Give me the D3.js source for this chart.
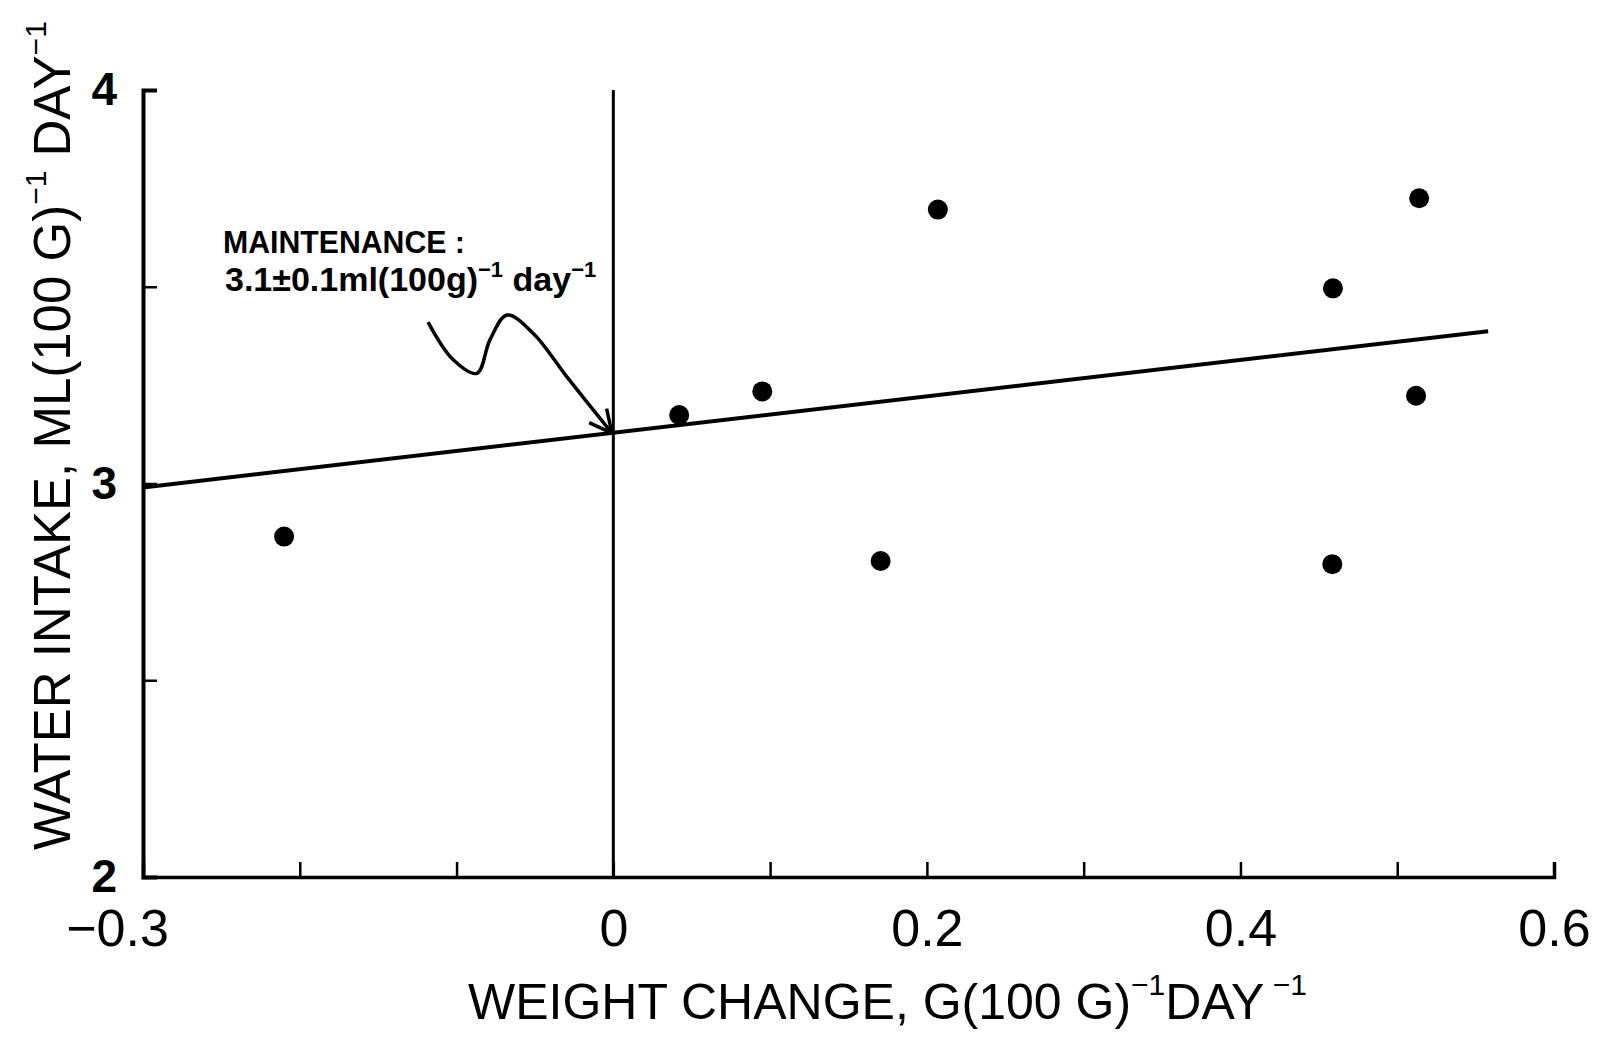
<!DOCTYPE html>
<html>
<head>
<meta charset="utf-8">
<script src="https://cdn.jsdelivr.net/npm/d3@7/dist/d3.min.js"></script>
<style>
  body { margin: 0; background: #fff; }
  svg text { font-family: "Liberation Sans", Arial, sans-serif; fill: #000; }
</style>
</head>
<body>
<script>
// weight change vs water intake
var weight_change = [-0.21, 0.042, 0.095, 0.1705, 0.207, 0.4586, 0.459, 0.514, 0.512];
var water_intake  = [2.865, 3.174, 3.234, 2.803, 3.696, 2.795, 3.496, 3.725, 3.223];

// fitted line end points
var fit_x = [-0.3, 0.558];
var fit_y = [2.99, 3.387];

var x_ticks = [-0.3, -0.2, -0.1, 0, 0.1, 0.2, 0.3, 0.4, 0.5, 0.6];
var x_tick_labels = {"-0.3": "\u22120.3", "0": "0", "0.2": "0.2", "0.4": "0.4", "0.6": "0.6"};
var y_ticks = [2, 2.5, 3, 3.5, 4];
var y_tick_labels = {"2": "2", "3": "3", "4": "4"};

// squiggly arrow pointing at the maintenance value (data units)
var arrow_x = [-0.1182, -0.1023, -0.0870, -0.0787, -0.0678, -0.0512, -0.0296, -0.0009];
var arrow_y = [3.410, 3.315, 3.280, 3.365, 3.428, 3.382, 3.271, 3.128];

var width = 1602, height = 1059;
var margin = {left: 143, right: 48, top: 90, bottom: 182};

var svg = d3.select("body").append("svg")
   .attr("width", width).attr("height", height);

var x = d3.scaleLinear().domain([-0.3, 0.6]).range([margin.left, width - margin.right]);
var y = d3.scaleLinear().domain([2, 4]).range([height - margin.bottom, margin.top]);

svg.append("defs").append("marker")
   .attr("id", "head").attr("viewBox", "0 0 20 20")
   .attr("refX", 18).attr("refY", 10)
   .attr("markerWidth", 8).attr("markerHeight", 8)
   .attr("markerUnits", "strokeWidth")
   .attr("orient", "auto")
   .append("path").attr("d", "M2,2 L18,10 L2,18")
   .attr("fill", "none").attr("stroke", "#000").attr("stroke-width", 2.5)
   .attr("stroke-linejoin", "miter");

// x axis
var x_axis = d3.axisBottom(x).tickValues(x_ticks).tickSize(-15).tickPadding(32)
   .tickFormat(function(d) { return x_tick_labels[String(+d.toFixed(1))] || ""; });
var gx = svg.append("g").attr("transform", "translate(0," + y(2) + ")").call(x_axis);
gx.select(".domain").attr("stroke-width", 3.5);
gx.selectAll(".tick line").attr("stroke-width", 2.5);
gx.selectAll(".tick text").attr("font-size", 52).attr("font-family", "Liberation Sans")
   .attr("dy", "0.72em")
   .attr("dx", function(d) { return d < -0.25 ? -26 : 0; });

// y axis
var y_axis = d3.axisLeft(y).tickValues(y_ticks).tickSize(-14).tickPadding(26)
   .tickFormat(function(d) { return y_tick_labels[String(d)] || ""; });
var gy = svg.append("g").attr("transform", "translate(" + x(-0.3) + ",0)").call(y_axis);
gy.select(".domain").attr("stroke-width", 4);
gy.selectAll(".tick line").attr("stroke-width", 2.5);
gy.selectAll(".tick text").attr("font-size", 46).attr("font-weight", "bold")
   .attr("font-family", "Liberation Sans");

// zero line
svg.append("line")
   .attr("x1", x(0)).attr("x2", x(0))
   .attr("y1", y(4)).attr("y2", y(2))
   .attr("stroke", "#000").attr("stroke-width", 3);

// regression line
svg.append("line")
   .attr("x1", x(fit_x[0])).attr("y1", y(fit_y[0]))
   .attr("x2", x(fit_x[1])).attr("y2", y(fit_y[1]))
   .attr("stroke", "#000").attr("stroke-width", 4);

// points
svg.selectAll("circle.pt")
   .data(d3.range(weight_change.length))
   .enter().append("circle")
   .attr("class", "pt")
   .attr("cx", function(i) { return x(weight_change[i]); })
   .attr("cy", function(i) { return y(water_intake[i]); })
   .attr("r", 10)
   .attr("fill", "#000");

// annotation
var arrow_line = d3.line().curve(d3.curveCatmullRom.alpha(0.5))
   .x(function(i) { return x(arrow_x[i]); })
   .y(function(i) { return y(arrow_y[i]); });
svg.append("path")
   .attr("d", arrow_line(d3.range(arrow_x.length)))
   .attr("fill", "none").attr("stroke", "#000").attr("stroke-width", 3.5)
   .attr("marker-end", "url(#head)");

svg.append("text")
   .attr("x", x(-0.249)).attr("y", y(3.586))
   .attr("font-size", 31).attr("font-weight", "bold")
   .attr("textLength", 242).attr("lengthAdjust", "spacingAndGlyphs")
   .text("MAINTENANCE :");

var note = svg.append("text")
   .attr("x", x(-0.2477)).attr("y", y(3.489))
   .attr("font-size", 34).attr("font-weight", "bold");
note.append("tspan").text("3.1\u00b10.1ml(100g)");
note.append("tspan").attr("font-size", 22).attr("dy", -14).text("\u22121");
note.append("tspan").attr("dy", 14).text(" day");
note.append("tspan").attr("font-size", 22).attr("dy", -14).text("\u22121");

// axis titles
var xt = svg.append("text")
   .attr("x", 468).attr("y", 1019)
   .attr("font-size", 50);
xt.append("tspan").text("WEIGHT  CHANGE, G(100 G)");
xt.append("tspan").attr("font-size", 30).attr("dy", -24).text("\u22121");
xt.append("tspan").attr("dy", 24).text("DAY");
xt.append("tspan").attr("font-size", 30).attr("dy", -24).text(" \u22121");

var yt = svg.append("text")
   .attr("transform", "translate(70,850) rotate(-90)")
   .attr("font-size", 51);
yt.append("tspan").text("WATER  INTAKE,  ML(100 G)");
yt.append("tspan").attr("font-size", 30).attr("dy", -24).text("\u22121");
yt.append("tspan").attr("dy", 24).text(" DAY");
yt.append("tspan").attr("font-size", 30).attr("dy", -24).text("\u22121");
</script>
</body>
</html>
